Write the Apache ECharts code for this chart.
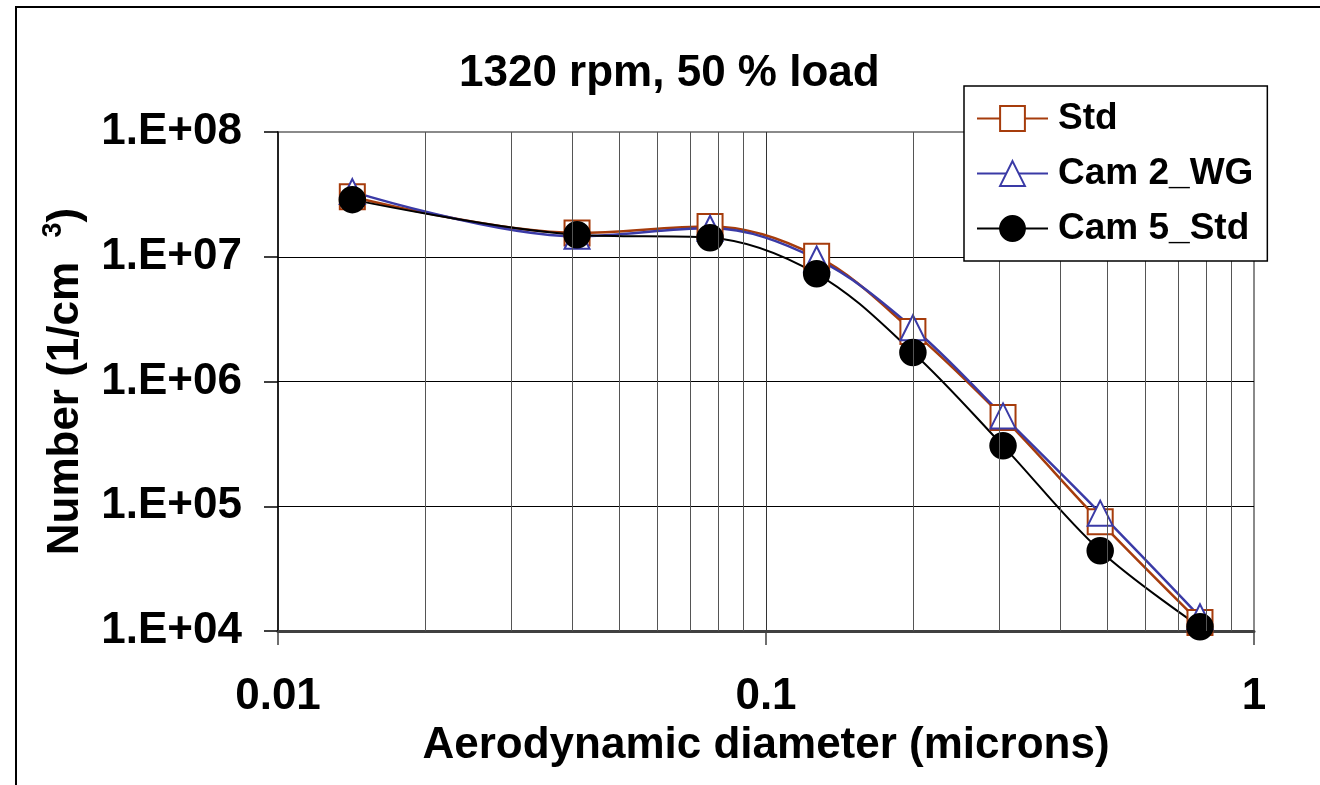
<!DOCTYPE html>
<html>
<head>
<meta charset="utf-8">
<script src="https://cdn.jsdelivr.net/npm/echarts@6/dist/echarts.min.js"></script>
<style>
  html, body { margin: 0; padding: 0; background: #fff; }
  #chart { width: 1320px; height: 785px; }
</style>
</head>
<body>
<div id="chart"></div>
<script>
// aerodynamic diameter (microns)
const diameters = [0.0142, 0.041, 0.0768, 0.127, 0.2, 0.306, 0.484, 0.775];
// number concentration (1/cm3)
const stdValues = [3.03e7, 1.55e7, 1.75e7, 1.01e7, 2.52e6, 5.15e5, 7.5e4, 1.17e4];
const cam2Values = [3.33e7, 1.46e7, 1.69e7, 9.6e6, 2.7e6, 5.3e5, 8.8e4, 1.3e4];
const cam5Values = [2.87e7, 1.50e7, 1.42e7, 7.3e6, 1.71e6, 3.05e5, 4.4e4, 1.08e4];
const seriesNames = ['Std', 'Cam 2_WG', 'Cam 5_Std'];
// minor vertical grid lines of the log x axis
const minorGridX = [0.02, 0.03, 0.04, 0.05, 0.06, 0.07, 0.08, 0.09,
  0.2, 0.3, 0.4, 0.5, 0.6, 0.7, 0.8, 0.9];

(function () {
  const el = document.getElementById('chart');
  const chart = echarts.init(el, null, { renderer: 'canvas' });
  const font = '"Liberation Sans", Arial, sans-serif';

  function pairs(values) {
    return diameters.map((d, i) => [d, values[i]]);
  }

  function lineSeries(name, values, color, symbol, width) {
    return {
      name,
      type: 'line',
      data: pairs(values),
      smooth: 0.35,
      symbol,
      symbolSize: 25,
      showAllSymbol: true,
      lineStyle: { color, width },
      itemStyle: { color, borderColor: color, borderWidth: 2.5 },
      emphasis: { disabled: true },
      z: 3,
    };
  }

  chart.setOption({
    animation: false,
    backgroundColor: '#fff',
    textStyle: { fontFamily: font },
    title: {
      text: '1320 rpm, 50 % load',
      left: 459,
      top: 52,
      padding: 0,
      textStyle: { fontSize: 44, fontWeight: 'bold', color: '#000', fontFamily: font },
    },
    graphic: [{
      type: 'rect',
      shape: { x: 16, y: 7, width: 1400, height: 900 },
      style: { fill: 'none', stroke: '#000', lineWidth: 2 },
      silent: true,
      z: 0,
    }],
    legend: {
      data: seriesNames,
      orient: 'vertical',
      left: 964,
      top: 86,
      padding: [14, 14, 14, 12],
      itemWidth: 71,
      itemHeight: 31,
      itemGap: 18,
      backgroundColor: '#fff',
      borderColor: '#000',
      borderWidth: 1.5,
      borderRadius: 0,
      textStyle: { fontSize: 37, fontWeight: 'bold', color: '#000', fontFamily: font, padding: [0, 0, 0, 5] },
      z: 10,
    },
    grid: {
      left: 278,
      right: 66,
      top: 132,
      bottom: 154,
      show: true,
      borderColor: '#8a8a8a',
      borderWidth: 2,
      backgroundColor: 'transparent',
    },
    xAxis: {
      type: 'log',
      logBase: 10,
      min: 0.01,
      max: 1,
      name: 'Aerodynamic diameter (microns)',
      nameLocation: 'middle',
      nameGap: 87,
      nameTextStyle: { fontSize: 44, fontWeight: 'bold', color: '#000', fontFamily: font },
      axisLine: { lineStyle: { color: '#404040', width: 3 } },
      axisTick: { show: true, length: 14, lineStyle: { color: '#404040', width: 1.5 } },
      axisLabel: {
        margin: 44,
        fontSize: 44,
        fontWeight: 'bold',
        color: '#000',
        fontFamily: font,
        formatter: (v) => String(+Number(v).toPrecision(3)),
      },
      splitLine: { show: true, showMinLine: false, showMaxLine: false, lineStyle: { color: '#333', width: 1 } },
    },
    yAxis: {
      type: 'log',
      logBase: 10,
      min: 1e4,
      max: 1e8,
      name: 'Number (1/cm  {sup|3})',
      nameLocation: 'middle',
      nameGap: 173,
      nameTextStyle: {
        fontSize: 44,
        fontWeight: 'bold',
        color: '#000',
        fontFamily: font,
        lineHeight: 50,
        rich: {
          sup: { fontSize: 27, fontWeight: 'bold', color: '#000', fontFamily: font, verticalAlign: 'top', lineHeight: 30 },
        },
      },
      axisLine: { lineStyle: { color: '#000', width: 1.5 } },
      axisTick: { show: true, length: 14, lineStyle: { color: '#000', width: 1.5 } },
      axisLabel: {
        margin: 36,
        fontSize: 44,
        fontWeight: 'bold',
        color: '#000',
        fontFamily: font,
        formatter: (v) => '1.E+' + String(Math.round(Math.log10(v))).padStart(2, '0'),
      },
      splitLine: { show: true, showMinLine: false, showMaxLine: false, lineStyle: { color: '#000', width: 1 } },
    },
    series: [
      {
        name: 'grid',
        type: 'line',
        data: [],
        silent: true,
        z: 1,
        markLine: {
          silent: true,
          symbol: 'none',
          label: { show: false },
          lineStyle: { color: '#555', width: 1, type: 'solid' },
          emphasis: { disabled: true },
          data: minorGridX.map((x) => ({ xAxis: x })),
        },
      },
      lineSeries('Std', stdValues, '#a63c0c', 'emptyRect', 2.5),
      lineSeries('Cam 2_WG', cam2Values, '#3a3aa6', 'emptyTriangle', 2.5),
      lineSeries('Cam 5_Std', cam5Values, '#000', 'circle', 2),
    ],
  });

  window.addEventListener('resize', () => chart.resize());
})();
</script>
</body>
</html>
